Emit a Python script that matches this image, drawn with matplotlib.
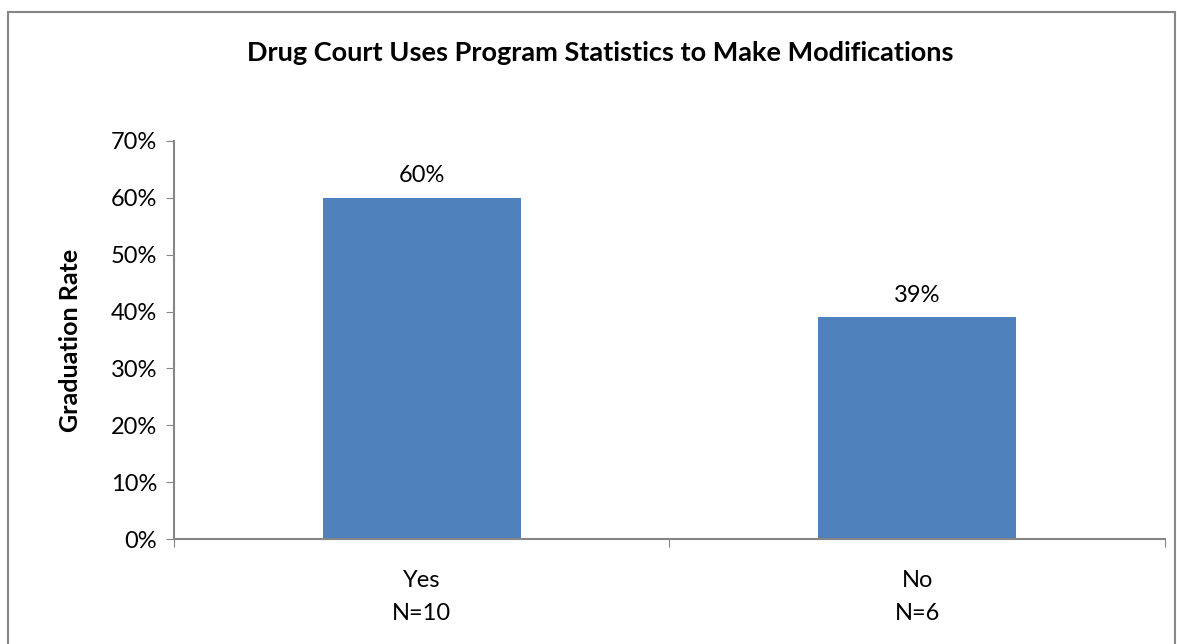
import matplotlib
matplotlib.use("Agg")
import matplotlib.pyplot as plt
from matplotlib.patches import Rectangle

plt.rcParams["font.family"] = ["Lato", "DejaVu Sans"]

# data
categories = ["Yes\nN=10", "No\nN=6"]
rates = [60, 39]
yticks = [0, 10, 20, 30, 40, 50, 60, 70]

BAR_COLOR = "#4f81bd"
AXIS_COLOR = "#868686"
FS = 17

fig = plt.figure(figsize=(11.77, 6.44), dpi=100)
ax = fig.add_axes([0.1478, 0.1630, 0.8420, 0.6181])

x = list(range(len(categories)))
ax.bar(x, rates, width=0.4, color=BAR_COLOR, zorder=2)
for xi, r in zip(x, rates):
    ax.text(xi, r + 2.0, f"{r}%", ha="center", va="bottom", fontsize=FS)

ax.set_xlim(-0.5, len(categories) - 0.5)
ax.set_ylim(0, 70)
ax.set_yticks(yticks)
ax.set_yticklabels([f"{v}%" for v in yticks], fontsize=FS)

# category boundary ticks + centered labels
ax.set_xticks([i - 0.5 for i in range(len(categories) + 1)])
ax.set_xticklabels([])
ax.set_xticks(x, minor=True)
ax.set_xticklabels(categories, minor=True, fontsize=FS, linespacing=1.72)
ax.tick_params(axis="x", which="minor", length=0, pad=22)
ax.tick_params(axis="x", which="major", length=6, color=AXIS_COLOR, direction="out")
ax.tick_params(axis="y", length=6, color=AXIS_COLOR, direction="out", pad=6)

for s in ["top", "right"]:
    ax.spines[s].set_visible(False)
for s in ["left", "bottom"]:
    ax.spines[s].set_color(AXIS_COLOR)
    ax.spines[s].set_linewidth(1.5)

ax.set_ylabel("Graduation Rate", fontsize=18, fontweight="bold", labelpad=21)

fig.text(0.51, 0.918, "Drug Court Uses Program Statistics to Make Modifications",
         ha="center", va="center", fontsize=19.5, fontweight="bold")

# chart border
fig.patches.append(Rectangle((8 / 1177, -0.05), 1167 / 1177, 1.05 - 12 / 644,
                             transform=fig.transFigure, fill=False,
                             edgecolor=AXIS_COLOR, linewidth=1.5))

fig.savefig("out.png", dpi=100)
plt.close()
